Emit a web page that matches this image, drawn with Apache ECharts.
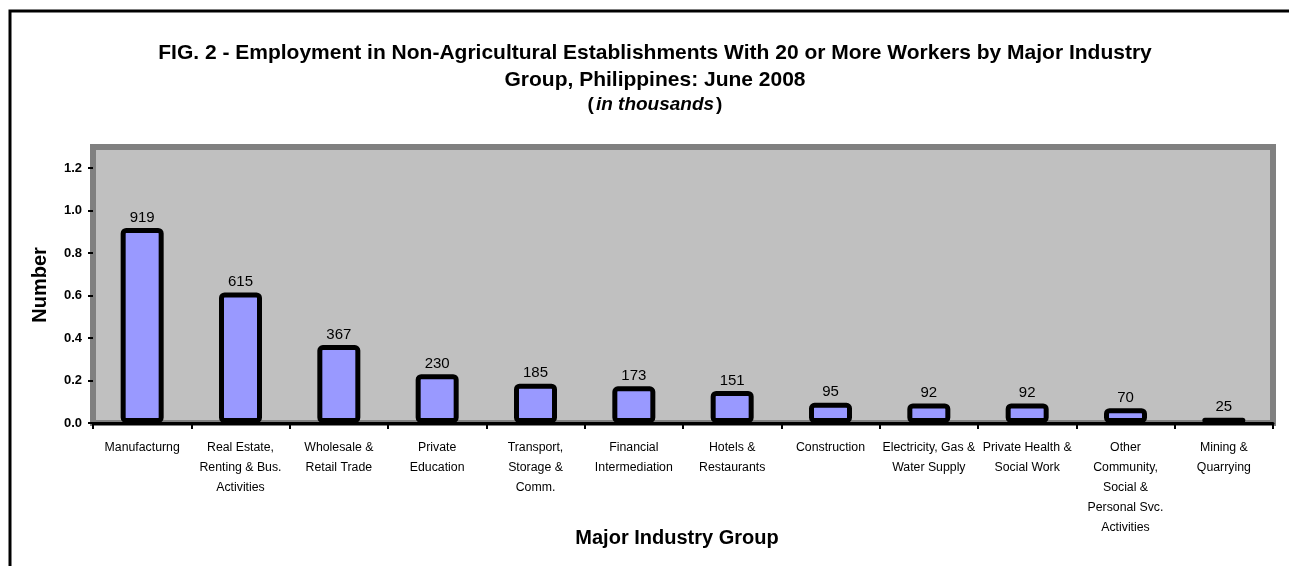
<!DOCTYPE html>
<html>
<head>
<meta charset="utf-8">
<script src="https://cdn.jsdelivr.net/npm/echarts@6/dist/echarts.min.js"></script>
<style>
html,body{margin:0;padding:0;background:#fff;}
#chart{width:1289px;height:566px;}
</style>
</head>
<body>
<div id="chart"></div>
<script>
const categories = [
  "Manufacturng",
  "Real Estate,\nRenting & Bus.\nActivities",
  "Wholesale &\nRetail Trade",
  "Private\nEducation",
  "Transport,\nStorage &\nComm.",
  "Financial\nIntermediation",
  "Hotels &\nRestaurants",
  "Construction",
  "Electricity, Gas &\nWater Supply",
  "Private Health &\nSocial Work",
  "Other\nCommunity,\nSocial &\nPersonal Svc.\nActivities",
  "Mining &\nQuarrying"
];
const values = [919, 615, 367, 230, 185, 173, 151, 95, 92, 92, 70, 25];
const yTicks = [0, 200, 400, 600, 800, 1000, 1200];
const yMax = 1300;

const boldFont = '"Liberation Sans", Arial, sans-serif';
const labelFont = '"Liberation Sans", Arial, sans-serif';

const chart = echarts.init(document.getElementById('chart'));
chart.setOption({
  backgroundColor: '#ffffff',
  animation: false,
  title: {
    left: 650,
    top: 35,
    textAlign: 'center',
    text: '{a|FIG. 2 - Employment in Non-Agricultural Establishments With 20 or More Workers by Major Industry}\n{a|Group, Philippines: June 2008}\n{c|(}{i|in thousands}{c|)}',
    textStyle: {
      rich: {
        a: {fontFamily: boldFont, fontWeight: 'bold', fontSize: 21, lineHeight: 27, color: '#000'},
        c: {fontFamily: boldFont, fontWeight: 'bold', fontSize: 19, lineHeight: 22, color: '#000', padding: [0, 2, 0, 2]},
        i: {fontFamily: boldFont, fontWeight: 'bold', fontStyle: 'italic', fontSize: 19, lineHeight: 22, color: '#000'}
      }
    }
  },
  graphic: [{
    type: 'rect',
    shape: {x: 10, y: 11, width: 1400, height: 700},
    style: {fill: null, stroke: '#000', lineWidth: 3},
    silent: true
  }],
  grid: {
    left: 93, right: 16, top: 147, bottom: 143,
    show: true,
    backgroundColor: '#C0C0C0',
    borderColor: '#808080',
    borderWidth: 6
  },
  xAxis: {
    type: 'category',
    data: categories,
    axisLine: {show: true, lineStyle: {color: '#000', width: 3}},
    axisTick: {show: true, interval: 0, length: 6, lineStyle: {color: '#000', width: 2}},
    axisLabel: {
      interval: 0, margin: 15, color: '#000',
      fontFamily: labelFont, fontSize: 12.3, lineHeight: 20
    },
    name: 'Major Industry Group',
    nameLocation: 'middle',
    nameGap: 105,
    nameMoveOverlap: false,
    nameTextStyle: {fontFamily: boldFont, fontWeight: 'bold', fontSize: 20, color: '#000', padding: [0, 12, 0, 0]}
  },
  yAxis: {
    type: 'value',
    min: 0,
    max: yMax,
    interval: 100,
    splitLine: {show: false},
    axisLine: {show: false},
    axisTick: {show: true, customValues: yTicks, length: 5, lineStyle: {color: '#000', width: 2}},
    axisLabel: {
      customValues: yTicks,
      margin: 11,
      color: '#000',
      fontFamily: boldFont, fontWeight: 'bold', fontSize: 13,
      formatter: v => (v / 1000).toFixed(1)
    },
    name: 'Number',
    nameLocation: 'middle',
    nameGap: 43,
    nameMoveOverlap: false,
    nameTextStyle: {fontFamily: boldFont, fontWeight: 'bold', fontSize: 20, color: '#000'}
  },
  series: [{
    type: 'bar',
    data: values,
    barWidth: 43,
    itemStyle: {color: '#9999FF', borderColor: '#000', borderWidth: 5, borderRadius: 3},
    label: {
      show: true, position: 'top', distance: 3,
      color: '#000', fontFamily: boldFont, fontSize: 15
    }
  }]
});
</script>
</body>
</html>
